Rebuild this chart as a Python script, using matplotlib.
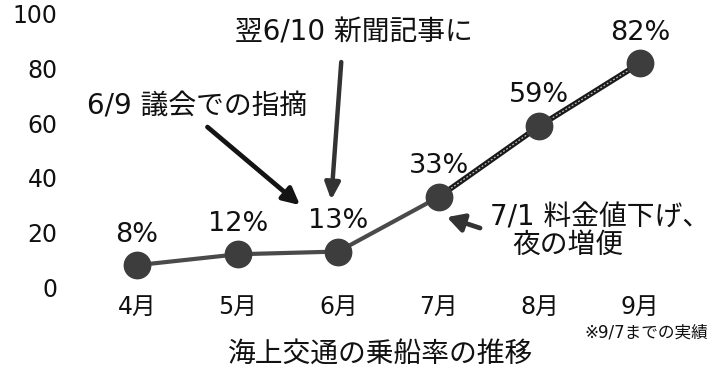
import matplotlib.pyplot as plt

plt.rcParams['font.family'] = ['DejaVu Sans', 'Noto Sans CJK JP']

months = [4, 5, 6, 7, 8, 9]
month_labels = ['4月', '5月', '6月', '7月', '8月', '9月']
rate = [8, 12, 13, 33, 59, 82]
y_ticks = [0, 20, 40, 60, 80, 100]

fig = plt.figure(figsize=(7.24, 3.68), dpi=100)
ax = fig.add_axes([0.1198, 0.220, 0.8337, 0.742])
ax.set_xlim(3.5, 9.5)
ax.set_ylim(0, 100)

# solid gray part up to July, then the darker hatched-looking part
ax.plot(months[:4], rate[:4], '-', color='#4a4a4a', lw=3.0, zorder=2)
ax.plot(months[3:], rate[3:], '-', color='#1a1a1a', lw=4.0, zorder=2,
        solid_capstyle='butt')
ax.plot(months[3:], rate[3:], '--', color='#bdbdbd', lw=0.9, zorder=3,
        dashes=(1.5, 1.5))
ax.plot(months, rate, 'o', color='#3d3d3d', ms=19, zorder=4, clip_on=False)

for m, r in zip(months, rate):
    ax.annotate(f'{r}%', (m, r), xytext=(0, 22), textcoords='offset points',
                ha='center', va='center', fontsize=19.5, color='#111111')

ax.set_xticks(months)
ax.set_xticklabels(month_labels, fontsize=17)
ax.set_yticks(y_ticks)
ax.set_yticklabels([str(t) for t in y_ticks], fontsize=17)
ax.tick_params(axis='both', length=0, colors='#111111')
ax.tick_params(axis='x', pad=6)
ax.tick_params(axis='y', pad=21)
for s in ax.spines.values():
    s.set_visible(False)

# notes with arrows
ax.annotate('', xy=(5.62, 30.0), xytext=(4.70, 58.6),
            arrowprops=dict(arrowstyle='-|>,head_length=1.0,head_width=0.5',
                            color='#141414', lw=3.4, shrinkA=0, shrinkB=0),
            annotation_clip=False)
ax.text(3.50, 66, '6/9 議会での指摘', fontsize=20, ha='left', va='center',
        color='#111111')

ax.annotate('', xy=(5.93, 31.9), xytext=(6.03, 82.4),
            arrowprops=dict(arrowstyle='-|>,head_length=1.0,head_width=0.45',
                            color='#333333', lw=3.2, shrinkA=0, shrinkB=0),
            annotation_clip=False)
ax.text(4.97, 93.4, '翌6/10 新聞記事に', fontsize=20, ha='left', va='center',
        color='#111111')

ax.annotate('', xy=(7.08, 25.6), xytext=(7.41, 21.6),
            arrowprops=dict(arrowstyle='-|>,head_length=1.0,head_width=0.55',
                            color='#333333', lw=3.4, shrinkA=0, shrinkB=0),
            annotation_clip=False)
ax.text(7.51, 25.3, '7/1 料金値下げ、', fontsize=20, ha='left', va='center',
        color='#111111')
ax.text(7.73, 15.4, '夜の増便', fontsize=20, ha='left', va='center',
        color='#111111')

ax.text(8.45, -16.5, '※9/7までの実績', fontsize=12, ha='left', va='center',
        color='#111111')

fig.text(0.525, 0.040, '海上交通の乗船率の推移', fontsize=20, ha='center',
         va='center', color='#111111')

fig.savefig('out.png', dpi=100)
